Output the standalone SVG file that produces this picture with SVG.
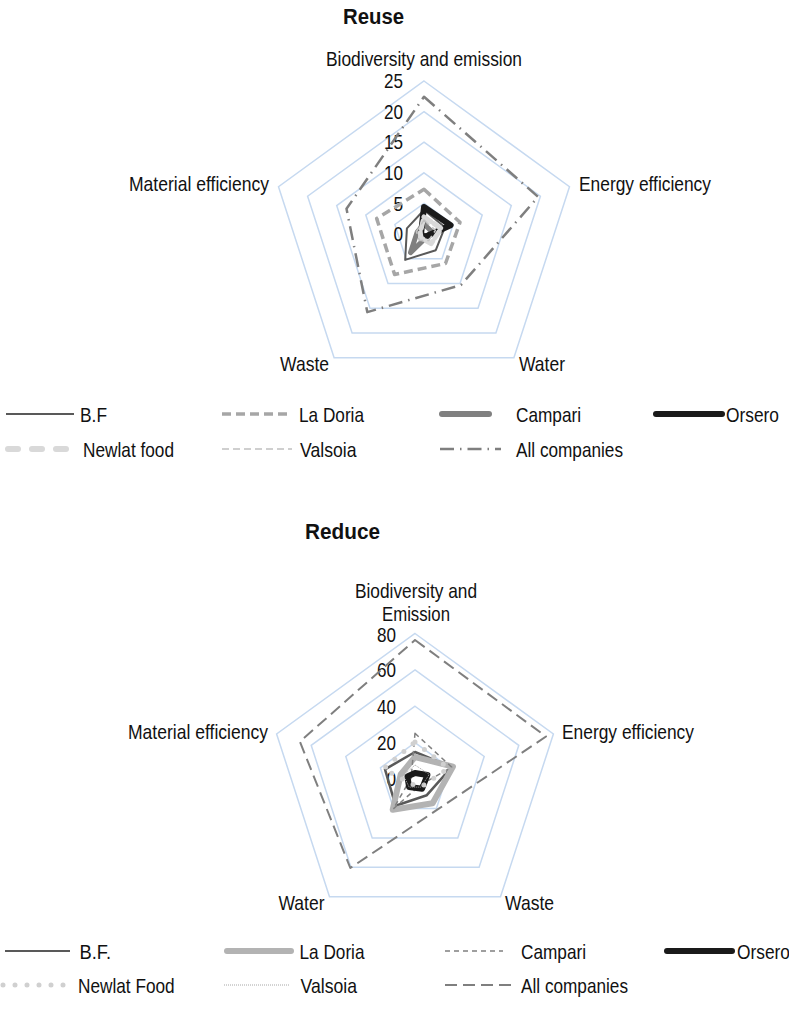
<svg xmlns="http://www.w3.org/2000/svg" width="789" height="1017" viewBox="0 0 789 1017">
<style>
text{font-family:"Liberation Sans Narrow","Liberation Sans",Arial,sans-serif;font-size:21px;fill:#111}
.title{font-weight:bold;font-size:22px}
.num{text-anchor:end}
.grid{fill:none;stroke:#c6d9f0;stroke-width:1.5}
.s{fill:none;stroke-linejoin:round}
.bf{stroke:#595959;stroke-width:2}
.ld1{stroke:#a6a6a6;stroke-width:3.5;stroke-dasharray:9 5}
.cp1{stroke:#808080;stroke-width:5;stroke-linecap:round}
.or{stroke:#1a1a1a;stroke-width:6;stroke-linecap:round}
.nl1{stroke:#d9d9d9;stroke-width:6;stroke-dasharray:10 14;stroke-linecap:round}
.vs1{stroke:#c0c0c0;stroke-width:1.5;stroke-dasharray:7 4}
.all1{stroke:#7f7f7f;stroke-width:2.5;stroke-dasharray:14 6 1.5 6}
.ld2{stroke:#b3b3b3;stroke-width:6;stroke-linecap:round}
.cp2{stroke:#808080;stroke-width:1.5;stroke-dasharray:5 4}
.nl2{stroke:#d0d0d0;stroke-width:5;stroke-dasharray:0 12;stroke-linecap:round}
.vs2{stroke:#a6a6a6;stroke-width:1;stroke-dasharray:1 1}
.all2{stroke:#7f7f7f;stroke-width:2;stroke-dasharray:12 6}
</style>

<!-- ===== Chart 1: Reuse ===== -->
<g id="reuse-chart">
  <text class="title" x="343" y="24" textLength="61" lengthAdjust="spacingAndGlyphs">Reuse</text>
  <g id="reuse-grid">
    <polygon class="grid" points="424,203.4 453.1,224.5 442,258.8 406,258.8 394.9,224.5"/>
    <polygon class="grid" points="424,172.8 482.2,215.1 460,283.5 388,283.5 365.8,215.1"/>
    <polygon class="grid" points="424,142.2 511.3,205.6 478,308.3 370,308.3 336.7,205.6"/>
    <polygon class="grid" points="424,111.6 540.4,196.2 495.9,333 352.1,333 307.6,196.2"/>
    <polygon class="grid" points="424,81 569.5,186.7 513.9,357.8 334.1,357.8 278.5,186.7"/>
  </g>
  <g id="reuse-axis-labels">
    <text x="326" y="66" textLength="196" lengthAdjust="spacingAndGlyphs">Biodiversity and emission</text>
    <text x="579" y="191" textLength="132" lengthAdjust="spacingAndGlyphs">Energy efficiency</text>
    <text x="519" y="371" textLength="46" lengthAdjust="spacingAndGlyphs">Water</text>
    <text x="280" y="371" textLength="49" lengthAdjust="spacingAndGlyphs">Waste</text>
    <text x="129" y="191" textLength="140" lengthAdjust="spacingAndGlyphs">Material efficiency</text>
  </g>
  <g id="reuse-values">
    <text class="num" x="403" y="87.5" textLength="19" lengthAdjust="spacingAndGlyphs">25</text>
    <text class="num" x="403" y="118.5" textLength="19" lengthAdjust="spacingAndGlyphs">20</text>
    <text class="num" x="403" y="149" textLength="19" lengthAdjust="spacingAndGlyphs">15</text>
    <text class="num" x="403" y="179.5" textLength="19" lengthAdjust="spacingAndGlyphs">10</text>
    <text class="num" x="403" y="210.5" textLength="9.6" lengthAdjust="spacingAndGlyphs">5</text>
    <text class="num" x="403" y="241" textLength="9.6" lengthAdjust="spacingAndGlyphs">0</text>
  </g>
  <g id="reuse-series">
    <polygon id="r-bf" class="s bf" points="424,210 444.9,227.2 435.8,250.2 405.2,259.9 406.9,228.4"/>
    <polygon id="r-ladoria" class="s ld1" points="424,189.3 460,222.3 445.5,263.5 394.6,274.5 376.7,218.6"/>
    <polygon id="r-campari" class="s cp1" points="424,224 431.6,231.5 426.4,237.2 410.5,252.6 417.3,231.8"/>
    <polygon id="r-orsero" class="s or" points="424,207 450.6,225.3 425.8,236.4 422.8,235.6 421.1,233.1"/>
    <polygon id="r-newlat" class="s nl1" style="stroke-width:5;stroke-dasharray:8 4" points="424,217 441.1,228.4 431.1,243.7 421.1,238 420.2,232.8"/>
    <polygon id="r-valsoia" class="s vs1" points="424,220 435.4,230.3 428.7,240.5 419.3,240.5 416.4,231.5"/>
    <polygon id="r-all" class="s all1" points="424,96.7 538.1,196.9 461,285 367.3,312.1 346.5,208.8"/>
  </g>
</g>

<g id="reuse-legend">
  <g id="rl-bf"><line class="s bf" x1="6" y1="414" x2="74" y2="414"/><text x="80" y="421.5" textLength="27" lengthAdjust="spacingAndGlyphs">B.F</text></g>
  <g id="rl-ladoria"><line class="s ld1" x1="222" y1="414" x2="292" y2="414"/><text x="299" y="421.5" textLength="65" lengthAdjust="spacingAndGlyphs">La Doria</text></g>
  <g id="rl-campari"><line class="s cp1" style="stroke-width:6" x1="442" y1="414" x2="489" y2="414"/><text x="516" y="421.5" textLength="65" lengthAdjust="spacingAndGlyphs">Campari</text></g>
  <g id="rl-orsero"><line class="s or" x1="656" y1="414" x2="722" y2="414"/><text x="726" y="421.5" textLength="53" lengthAdjust="spacingAndGlyphs">Orsero</text></g>
  <g id="rl-newlat"><line class="s nl1" x1="8" y1="449" x2="72" y2="449"/><text x="83" y="456.5" textLength="91" lengthAdjust="spacingAndGlyphs">Newlat food</text></g>
  <g id="rl-valsoia"><line class="s vs1" x1="222" y1="449" x2="292" y2="449"/><text x="300" y="456.5" textLength="56.5" lengthAdjust="spacingAndGlyphs">Valsoia</text></g>
  <g id="rl-all"><line class="s all1" x1="440" y1="449" x2="501" y2="449"/><text x="516" y="456.5" textLength="107" lengthAdjust="spacingAndGlyphs">All companies</text></g>
</g>

<!-- ===== Chart 2: Reduce ===== -->
<g id="reduce-chart">
  <text class="title" x="305" y="539" textLength="75" lengthAdjust="spacingAndGlyphs">Reduce</text>
  <g id="reduce-grid">
    <polygon class="grid" points="415,742.6 449.6,767.8 436.4,808.4 393.6,808.4 380.4,767.8"/>
    <polygon class="grid" points="415,706.25 484.2,756.5 457.8,837.9 372.2,837.9 345.8,756.5"/>
    <polygon class="grid" points="415,669.9 518.8,745.3 479.1,867.3 350.9,867.3 311.2,745.3"/>
    <polygon class="grid" points="415,633.5 553.4,734 500.5,896.7 329.5,896.7 276.6,734"/>
  </g>
  <g id="reduce-axis-labels">
    <text x="355" y="598" textLength="122" lengthAdjust="spacingAndGlyphs">Biodiversity and</text>
    <text x="382" y="621" textLength="68" lengthAdjust="spacingAndGlyphs">Emission</text>
    <text x="562" y="739" textLength="132" lengthAdjust="spacingAndGlyphs">Energy efficiency</text>
    <text x="505" y="910" textLength="49" lengthAdjust="spacingAndGlyphs">Waste</text>
    <text x="278.5" y="910" textLength="46" lengthAdjust="spacingAndGlyphs">Water</text>
    <text x="128" y="739" textLength="140" lengthAdjust="spacingAndGlyphs">Material efficiency</text>
  </g>
  <g id="reduce-values">
    <text class="num" x="396" y="641.5" textLength="19" lengthAdjust="spacingAndGlyphs">80</text>
    <text class="num" x="396" y="677" textLength="19" lengthAdjust="spacingAndGlyphs">60</text>
    <text class="num" x="396" y="713.5" textLength="19" lengthAdjust="spacingAndGlyphs">40</text>
    <text class="num" x="396" y="750" textLength="19" lengthAdjust="spacingAndGlyphs">20</text>
    <text class="num" x="396" y="786" textLength="9.6" lengthAdjust="spacingAndGlyphs">0</text>
  </g>
  <g id="reduce-series">
    <polygon id="d-bf" class="s bf" style="stroke-width:2.5" points="415,752 451.7,767.1 426.8,795.2 395.6,805.7 385,769.3"/>
    <polygon id="d-ladoria" class="s ld2" points="415,757 453,766.6 432.6,803.3 392.7,809.7 400.7,774.4"/>
    <polygon id="d-campari" class="s cp2" points="415,733.3 451.7,767.1 419.7,785.5 393.3,808.9 411.2,777.8"/>
    <polygon id="d-orsero" class="s or" points="415,773 427.4,775 422.1,788.7 409.1,787.1 407.4,776.5"/>
    <polygon id="d-newlat" class="s nl2" points="415,742 448.3,768.2 420.9,787.1 411.5,783.9 383.6,768.8"/>
    <polygon id="d-valsoia" class="s vs2" points="415,765 429.3,774.4 420.9,787.1 409.1,787.1 403.6,775.3"/>
    <polygon id="d-all" class="s all2" points="415,640 546,736.5 437.3,809.7 350.3,868 299.9,741.6"/>
  </g>
</g>

<g id="reduce-legend">
  <g id="dl-bf"><line class="s bf" x1="5" y1="951" x2="70" y2="951"/><text x="79.5" y="958.5" textLength="31.6" lengthAdjust="spacingAndGlyphs">B.F.</text></g>
  <g id="dl-ladoria"><line class="s ld2" x1="227" y1="951" x2="291" y2="951"/><text x="299.5" y="958.5" textLength="65" lengthAdjust="spacingAndGlyphs">La Doria</text></g>
  <g id="dl-campari"><line class="s cp2" x1="445" y1="951" x2="503" y2="951"/><text x="521" y="958.5" textLength="65" lengthAdjust="spacingAndGlyphs">Campari</text></g>
  <g id="dl-orsero"><line class="s or" x1="667" y1="951" x2="732" y2="951"/><text x="737" y="958.5" textLength="53" lengthAdjust="spacingAndGlyphs">Orsero</text></g>
  <g id="dl-newlat"><line class="s nl2" x1="3" y1="985" x2="73" y2="985"/><text x="78" y="992.5" textLength="96.7" lengthAdjust="spacingAndGlyphs">Newlat Food</text></g>
  <g id="dl-valsoia"><line class="s vs2" x1="224" y1="985" x2="289" y2="985"/><text x="300.5" y="992.5" textLength="56.5" lengthAdjust="spacingAndGlyphs">Valsoia</text></g>
  <g id="dl-all"><line class="s all2" x1="445" y1="985" x2="516" y2="985"/><text x="521" y="992.5" textLength="107" lengthAdjust="spacingAndGlyphs">All companies</text></g>
</g>
</svg>
